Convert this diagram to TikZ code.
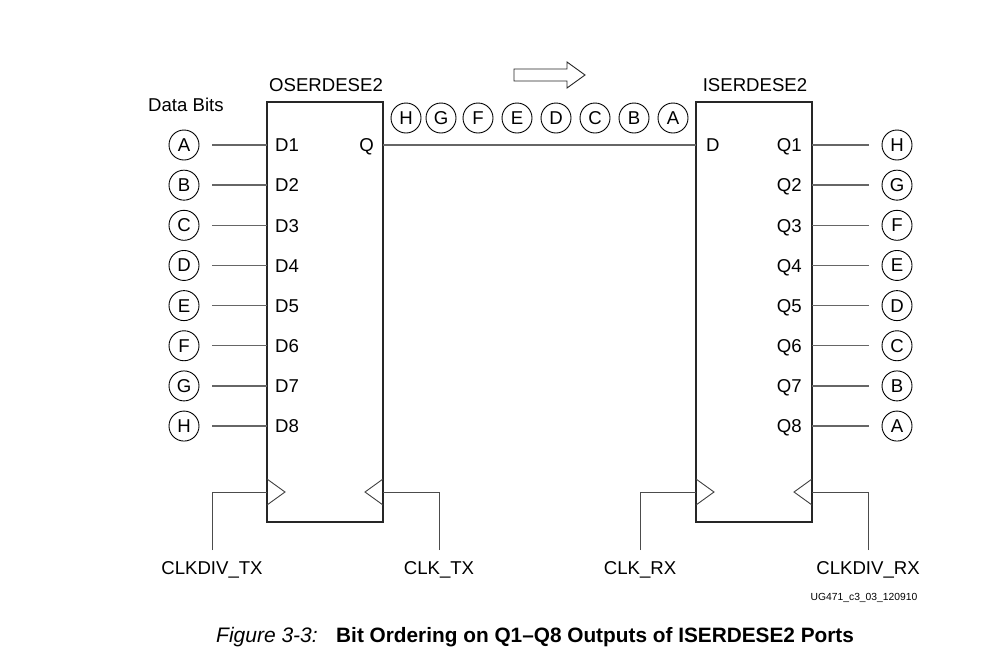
\documentclass[tikz,border=0pt]{standalone}
\usepackage{fontspec}
\setmainfont{Liberation Sans}
\begin{document}
\begin{tikzpicture}[x=1pt,y=-1pt,
  lbl/.style={font=\fontsize{18.6}{20}\selectfont, inner sep=0pt, text=black},
  bit/.style={circle, draw=black, line width=0.9pt, minimum size=30pt, inner sep=0pt, font=\fontsize{18.6}{20}\selectfont},
  wire/.style={draw=black!60, line width=1.4pt},
  clkw/.style={draw=black!70, line width=1pt},
  blk/.style={draw=black!85, line width=2.6pt, inner sep=0pt, outer sep=0pt, anchor=north west},
  tri/.style={draw=black!75, line width=0.9pt}]
\useasboundingbox (0,0) rectangle (1006,654);

% blocks
\node[blk, minimum width=116pt, minimum height=420pt] (ose) at (267,102) {};
\node[blk, minimum width=116pt, minimum height=420pt] (ise) at (696,102) {};
\node[lbl, anchor=base] (osename) at (326,91.7) {OSERDESE2};
\node[lbl, anchor=base] (isename) at (755,91.7) {ISERDESE2};
\node[lbl, anchor=base west] (databits) at (148,111.7) {Data Bits};

% input ports and bits
\foreach \i/\b [count=\k from 0] in {1/A,2/B,3/C,4/D,5/E,6/F,7/G,8/H}{
  \node[lbl, anchor=base west] (din\i) at (275,{151.7+40.15*\k}) {D\i};
  \node[bit] (in\b) at (184,{145+40.15*\k}) {\b};
  \draw[wire] ([xshift=13pt]in\b.east) -- (in\b -| ose.west);
}
% output ports and bits
\foreach \i/\b [count=\k from 0] in {1/H,2/G,3/F,4/E,5/D,6/C,7/B,8/A}{
  \node[lbl, anchor=base east] (qout\i) at (802,{151.7+40.15*\k}) {Q\i};
  \node[bit] (out\b) at (897,{145+40.15*\k}) {\b};
  \draw[wire] (out\b -| ise.east) -- ([xshift=-13pt]out\b.west);
}

% serial link
\node[lbl, anchor=base east] (qo) at (374,151.7) {Q};
\node[lbl, anchor=base west] (di) at (706,151.7) {D};
\coordinate (qline) at (0,145);
\draw[wire] (qline -| ose.east) -- (qline -| ise.west);
\foreach \b/\x in {H/406,G/441,F/478,E/517,D/556,C/595,B/634,A/673}{
  \node[bit] (s\b) at (\x,118) {\b};
}

% direction arrow
\draw[line width=0.9pt, draw=black!85] (514,69) -- (567,69) -- (567,62) -- (585,75) -- (567,88) -- (567,81) -- (514,81) -- cycle;

% clock triangles
\coordinate (oclkL) at ([yshift=30pt]ose.south west);
\coordinate (oclkR) at ([yshift=30pt]ose.south east);
\coordinate (iclkL) at ([yshift=30pt]ise.south west);
\coordinate (iclkR) at ([yshift=30pt]ise.south east);
\draw[tri] ([yshift=13pt]oclkL) -- ([xshift=18pt]oclkL) -- ([yshift=-13pt]oclkL);
\draw[tri] ([yshift=13pt]oclkR) -- ([xshift=-18pt]oclkR) -- ([yshift=-13pt]oclkR);
\draw[tri] ([yshift=13pt]iclkL) -- ([xshift=18pt]iclkL) -- ([yshift=-13pt]iclkL);
\draw[tri] ([yshift=13pt]iclkR) -- ([xshift=-18pt]iclkR) -- ([yshift=-13pt]iclkR);

% clock labels and wires
\node[lbl, anchor=north] (ckdtx) at (212,561) {CLKDIV\_TX};
\node[lbl, anchor=north] (cktx) at (439,561) {CLK\_TX};
\node[lbl, anchor=north] (ckrx) at (640,561) {CLK\_RX};
\node[lbl, anchor=north] (ckdrx) at (868,561) {CLKDIV\_RX};
\draw[clkw] ([yshift=11pt]ckdtx.north) |- (oclkL);
\draw[clkw] ([yshift=11pt]cktx.north) |- (oclkR);
\draw[clkw] ([yshift=11pt]ckrx.north) |- (iclkL);
\draw[clkw] ([yshift=11pt]ckdrx.north) |- (iclkR);

% footer
\node[anchor=center, inner sep=0pt, font=\fontsize{10.3}{12}\selectfont] (ug) at (864,598) {UG471\_c3\_03\_120910};
\node[anchor=base west, inner sep=0pt, font=\fontsize{21}{24}\selectfont\itshape] (figno) at (216,642.5) {Figure 3-3:};
\node[anchor=base west, inner sep=0pt, font=\fontsize{20.8}{24}\selectfont\bfseries] (figtitle) at (336,642.5) {Bit Ordering on Q1–Q8 Outputs of ISERDESE2 Ports};
\end{tikzpicture}
\end{document}
